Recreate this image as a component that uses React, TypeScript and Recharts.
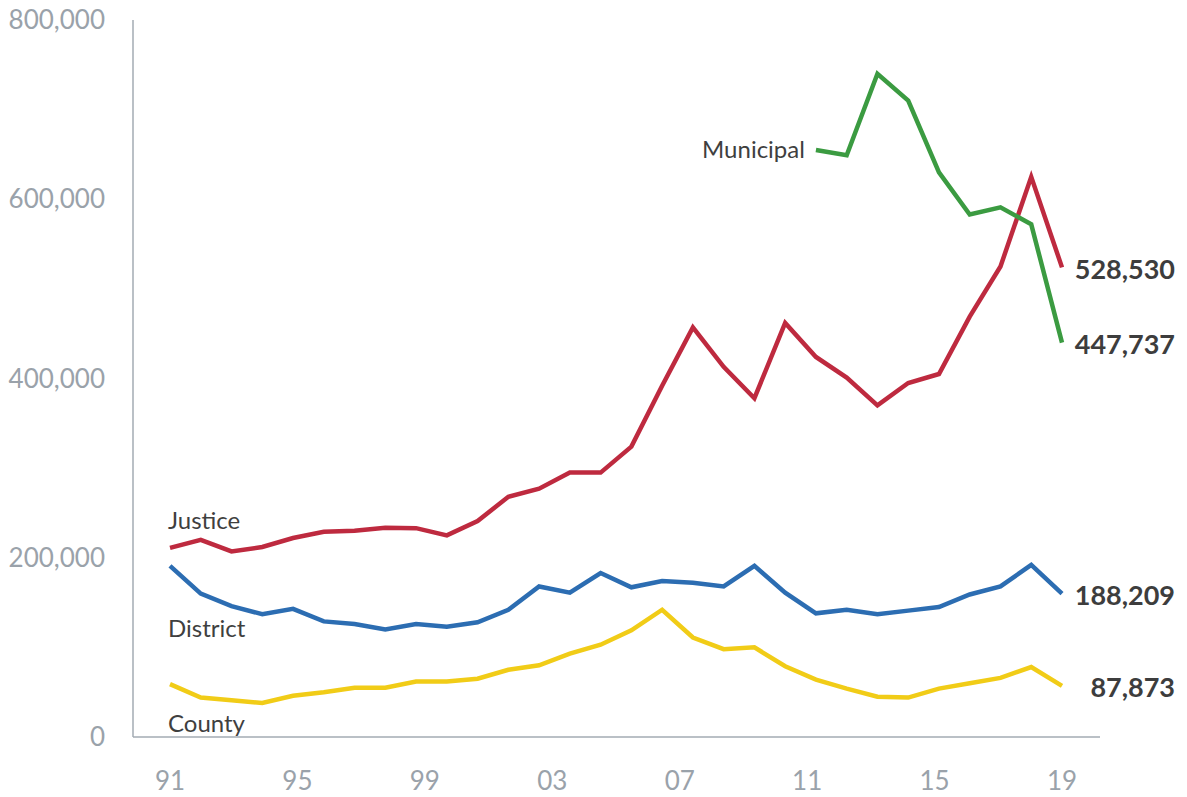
import { LineChart, Line, XAxis, YAxis, LabelList } from "recharts";

// 30 yearly points, axis shows 8 evenly spaced labels
const years = [
  1990, 1991, 1992, 1993, 1994, 1995, 1996, 1997, 1998, 1999,
  2000, 2001, 2002, 2003, 2004, 2005, 2006, 2007, 2008, 2009,
  2010, 2011, 2012, 2013, 2014, 2015, 2016, 2017, 2018, 2019,
];

const tickLabels = ["91", "95", "99", "03", "07", "11", "15", "19"];
const yTicks = [0, 200000, 400000, 600000, 800000];

const justice = [
  211000, 220000, 207000, 212000, 222000, 229000, 230000, 233500, 233000, 225000,
  241000, 268000, 277000, 295000, 295000, 324000, 392000, 457000, 413000, 378000,
  462000, 424000, 401000, 370000, 395000, 405000, 469000, 525000, 625000, 524000,
];

const district = [
  191000, 160000, 146000, 137000, 143000, 129000, 126000, 120000, 126000, 123000,
  128000, 142000, 168000, 161000, 183000, 167000, 174000, 172000, 168000, 191000,
  161000, 138000, 142000, 137000, 141000, 145000, 159000, 168000, 192000, 160000,
];

const county = [
  59000, 44000, 41000, 38000, 46000, 50000, 55000, 55000, 62000, 62000,
  65000, 75000, 80000, 93000, 103000, 119000, 142000, 111000, 98000, 100000,
  79000, 64000, 54000, 45000, 44000, 54000, 60000, 66000, 78000, 57000,
];

const municipal = [
  null, null, null, null, null, null, null, null, null, null,
  null, null, null, null, null, null, null, null, null, null,
  null, 655000, 649000, 740000, 710000, 630000, 583000, 591000, 572000, 440000,
];

const endLabels = {
  justice: "528,530",
  municipal: "447,737",
  district: "188,209",
  county: "87,873",
};

const data = years.map((year, i) => ({
  i,
  year,
  justice: justice[i],
  district: district[i],
  county: county[i],
  municipal: municipal[i],
}));

const last = years.length - 1;
const xTicks = tickLabels.map((_, k) => (k * last) / (tickLabels.length - 1));

const tickStyle = { fontSize: 26, fill: "#9aa2aa", fontFamily: "Lato" };

function pointOf(props: any) {
  const x = props.x ?? props.viewBox?.x;
  const y = props.y ?? props.viewBox?.y;
  return { x, y };
}

function SeriesName(props: any) {
  const { index, value, at, text, dx, dy, anchor } = props;
  if (index !== at || value == null) return null;
  const { x, y } = pointOf(props);
  if (x == null || y == null) return null;
  return (
    <text
      x={x + dx}
      y={y + dy}
      textAnchor={anchor}
      fontSize={24}
      fill="#3f3f3f"
      fontFamily="Lato"
    >
      {text}
    </text>
  );
}

function EndValue(props: any) {
  const { index, value, text } = props;
  if (index !== last || value == null) return null;
  const { x, y } = pointOf(props);
  if (x == null || y == null) return null;
  return (
    <text
      x={x + 113}
      y={y + 1}
      textAnchor="end"
      dominantBaseline="central"
      fontSize={27}
      fontWeight={700}
      fill="#3d3d3d"
      fontFamily="Lato"
    >
      {text}
    </text>
  );
}

export default function App() {
  return (
    <div style={{ position: "absolute", left: 0, top: 0, background: "#fff" }}>
      <LineChart
        width={1187}
        height={797}
        data={data}
        margin={{ top: 20, right: 87, bottom: 0, left: 0 }}
      >
        <XAxis
          type="number"
          dataKey="i"
          domain={[0, last]}
          ticks={xTicks}
          interval={0}
          allowDecimals
          padding={{ left: 37, right: 38 }}
          tickFormatter={(v: number) => tickLabels[Math.round((v * (tickLabels.length - 1)) / last)]}
          tick={tickStyle}
          tickLine={false}
          tickMargin={29}
          height={60}
          axisLine={{ stroke: "#a3abb3", strokeWidth: 1.5 }}
        />
        <YAxis
          domain={[0, 800000]}
          ticks={yTicks}
          interval={0}
          width={133}
          tickFormatter={(v: number) => v.toLocaleString("en-US")}
          tick={tickStyle}
          tickLine={false}
          tickMargin={22}
          axisLine={{ stroke: "#a3abb3", strokeWidth: 1.5 }}
        />

        <Line
          type="linear"
          dataKey="county"
          stroke="#f1cc17"
          strokeWidth={4.5}
          dot={false}
          isAnimationActive={false}
        >
          <LabelList
            dataKey="county"
            content={(p: any) => (
              <SeriesName {...p} at={0} text="County" dx={-2} dy={48} anchor="start" />
            )}
          />
          <LabelList dataKey="county" content={(p: any) => <EndValue {...p} text={endLabels.county} />} />
        </Line>

        <Line
          type="linear"
          dataKey="district"
          stroke="#2c6db2"
          strokeWidth={4.5}
          dot={false}
          isAnimationActive={false}
        >
          <LabelList
            dataKey="district"
            content={(p: any) => (
              <SeriesName {...p} at={0} text="District" dx={-2} dy={71} anchor="start" />
            )}
          />
          <LabelList dataKey="district" content={(p: any) => <EndValue {...p} text={endLabels.district} />} />
        </Line>

        <Line
          type="linear"
          dataKey="justice"
          stroke="#be2a3f"
          strokeWidth={4.5}
          dot={false}
          isAnimationActive={false}
        >
          <LabelList
            dataKey="justice"
            content={(p: any) => (
              <SeriesName {...p} at={0} text="Justice" dx={-2} dy={-19} anchor="start" />
            )}
          />
          <LabelList dataKey="justice" content={(p: any) => <EndValue {...p} text={endLabels.justice} />} />
        </Line>

        <Line
          type="linear"
          dataKey="municipal"
          stroke="#3b9b41"
          strokeWidth={4.5}
          dot={false}
          connectNulls={false}
          isAnimationActive={false}
        >
          <LabelList
            dataKey="municipal"
            content={(p: any) => (
              <SeriesName {...p} at={21} text="Municipal" dx={-11} dy={8} anchor="end" />
            )}
          />
          <LabelList dataKey="municipal" content={(p: any) => <EndValue {...p} text={endLabels.municipal} />} />
        </Line>
      </LineChart>
    </div>
  );
}
